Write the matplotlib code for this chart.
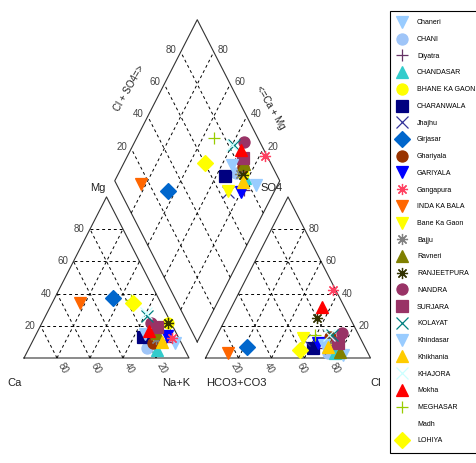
import numpy as np
import matplotlib.pyplot as plt

plt.rcParams['font.family'] = ['Liberation Sans', 'DejaVu Sans']

# sample sites (legend order = plotting order)
sites = ['Chaneri', 'CHANI', 'Diyatra', 'CHANDASAR', 'BHANE KA GAON', 'CHARANWALA',
         'Jhajhu', 'Girjasar', 'Ghariyala', 'GARIYALA', 'Gangapura', 'INDA KA BALA',
         'Bane Ka Gaon', 'Bajju', 'Ravneri', 'RANJEETPURA', 'NANDRA', 'SURJARA',
         'KOLAYAT', 'Khindasar', 'Khikhania', 'KHAJORA', 'Mokha', 'MEGHASAR',
         'Madh', 'LOHIYA']

# cations (% meq): Mg and Na+K, Ca is the rest
mg = [9.3, 6.2, 10, 5, 22, 13, 14, 37, 9.3, 13.6, 12.4, 34,
      14, 12, 15.5, 22, 22, 19, 26, 15, 10, 28, 17, 36, 15, 34]
na_k = [86.9, 71.3, 81, 78, 76, 65.6, 72, 35.3, 73.5, 79.7, 83.3, 17,
        72, 74, 72.7, 76, 66, 71, 61.5, 66, 78.5, 60, 67, 47, 70, 49]
# anions (% meq): SO4 and Cl, HCO3+CO3 is the rest
so4 = [1.9, 2.9, 6, 3, 10, 6.4, 11, 7, 13.2, 9.1, 42.1, 3,
       12.6, 8, 3.9, 24.6, 15.3, 9.1, 14.2, 8, 7, 14, 31.8, 14.2, 10, 5]
cl = [82.6, 73, 69.5, 77, 70, 62.2, 54, 21.7, 68.8, 63.9, 56.4, 12,
      53, 70, 79.5, 55.1, 74.9, 75.9, 69.4, 68, 70.5, 68, 54.5, 59.3, 70, 54.8]

markers = ['v', 'o', '+', '^', 'o', 's', 'x', 'D', 'o', 'v', (8, 2, 0), 'v',
           'v', (8, 2, 0), '^', (8, 2, 0), 'o', 's', 'x', 'v', '^', 'x', '^', '+',
           'none', 'D']
colors = ['#99CCFF', '#9FC5F8', '#663366', '#33CCCC', '#FFFF00', '#000080',
          '#333399', '#0066CC', '#993300', '#0000FF', '#FF4060', '#FF6600',
          '#FFFF00', '#808080', '#808000', '#333300', '#993366', '#993366',
          '#008080', '#99CCFF', '#FFCC00', '#CCFFFF', '#FF0000', '#99CC00',
          'white', '#FFFF00']

grid_vals = [20, 40, 60, 80]

h = np.sqrt(3) / 2
g = 0.1


def left_xy(mgv, nav):
    return (nav + mgv / 2) / 100, h * mgv / 100


def right_xy(so4v, clv):
    return 1 + g + (clv + so4v / 2) / 100, h * so4v / 100


def dia_xy(cam, scl):
    # cam = Ca+Mg fraction, scl = Cl+SO4 fraction
    return 1 + g / 2 + 0.5 * (scl - cam), g * h + h * (scl + cam)


fig = plt.figure(figsize=(4.76, 4.63), dpi=100)
ax = fig.add_axes([0, 0, 1, 1])
ax.set_xlim(-24 / 165, 452 / 165)
ax.set_ylim(-105 / 186, 358 / 186)
ax.axis('off')

edge = dict(color='#333333', lw=0.8, zorder=1)
grid = dict(color='black', lw=0.7, ls=(0, (3.0, 3.0)), zorder=1)

# outlines
ax.plot([0, 1, 0.5, 0], [0, 0, h, 0], **edge)
ax.plot([1 + g, 2 + g, 1.5 + g, 1 + g], [0, 0, h, 0], **edge)
d = [dia_xy(0, 0), dia_xy(1, 0), dia_xy(1, 1), dia_xy(0, 1), dia_xy(0, 0)]
ax.plot([p[0] for p in d], [p[1] for p in d], **edge)

tick_kw = dict(textcoords='offset points', fontsize=7, color='#444444',
               va='center')
for v in grid_vals:
    f = v / 100
    # left triangle
    a, b = left_xy(v, 0), left_xy(v, 100 - v)
    ax.plot([a[0], b[0]], [a[1], b[1]], **grid)
    a, b = left_xy(0, v), left_xy(100 - v, v)
    ax.plot([a[0], b[0]], [a[1], b[1]], **grid)
    a, b = left_xy(0, 100 - v), left_xy(100 - v, 0)
    ax.plot([a[0], b[0]], [a[1], b[1]], **grid)
    # right triangle
    a, b = right_xy(v, 0), right_xy(v, 100 - v)
    ax.plot([a[0], b[0]], [a[1], b[1]], **grid)
    a, b = right_xy(0, v), right_xy(100 - v, v)
    ax.plot([a[0], b[0]], [a[1], b[1]], **grid)
    a, b = right_xy(0, 100 - v), right_xy(100 - v, 0)
    ax.plot([a[0], b[0]], [a[1], b[1]], **grid)
    # diamond
    a, b = dia_xy(f, 0), dia_xy(f, 1)
    ax.plot([a[0], b[0]], [a[1], b[1]], **grid)
    a, b = dia_xy(0, f), dia_xy(1, f)
    ax.plot([a[0], b[0]], [a[1], b[1]], **grid)

    # tick labels
    ax.annotate(str(v), left_xy(v, 0), xytext=(-4, 0), ha='right', **tick_kw)
    ax.annotate(str(v), left_xy(0, 100 - v), xytext=(4.5, -7.5), ha='center',
                rotation=-60, **tick_kw)
    ax.annotate(str(v), right_xy(0, v), xytext=(-2, -7.5), ha='center',
                rotation=-60, **tick_kw)
    ax.annotate(str(v), right_xy(v, 100 - v), xytext=(3, 0), ha='left', **tick_kw)
    ax.annotate(str(v), dia_xy(1, f), xytext=(-3, 1.5), ha='right', **tick_kw)
    ax.annotate(str(v), dia_xy(f, 1), xytext=(3, 1.5), ha='left', **tick_kw)

lab_kw = dict(textcoords='offset points', fontsize=8, color='#222222',
              ha='center', va='center')
ax.annotate('Ca', (0, 0), xytext=(-6.5, -18), **lab_kw)
ax.annotate('Na+K', (1, 0), xytext=(-9.5, -18), **lab_kw)
ax.annotate('Mg', (0.5, h), xytext=(-6, 6.5), **lab_kw)
ax.annotate('HCO3+CO3', (1 + g, 0), xytext=(22, -18), **lab_kw)
ax.annotate('Cl', (2 + g, 0), xytext=(4, -18), **lab_kw)
ax.annotate('SO4', (1.5 + g, h), xytext=(-11.5, 6.5), **lab_kw)
ax.annotate('Cl + SO4=>', dia_xy(1, 0.5), xytext=(-19.5, 8.5), rotation=60,
            **dict(lab_kw, fontsize=7))
ax.annotate('<=Ca + Mg', dia_xy(0.5, 1), xytext=(23, -5), rotation=-60,
            **dict(lab_kw, fontsize=7))

# data points
handles = []
for i, s in enumerate(sites):
    ca_mg = (100 - na_k[i]) / 100
    cl_so4 = (cl[i] + so4[i]) / 100
    p1 = left_xy(mg[i], na_k[i])
    p2 = right_xy(so4[i], cl[i])
    p3 = dia_xy(ca_mg, cl_so4)
    ln, = ax.plot([p1[0], p2[0], p3[0]], [p1[1], p2[1], p3[1]], ls='none',
                  marker=markers[i], color=colors[i], ms=8, mew=0.9,
                  zorder=3, label=s)
    handles.append(ln)

leg = fig.legend(handles=handles, loc='upper left',
                 bbox_to_anchor=(390 / 476, 1 - 11 / 463), borderaxespad=0,
                 fontsize=5, frameon=True, fancybox=False, edgecolor='black',
                 framealpha=1, labelspacing=1.40, handlelength=1.05,
                 handletextpad=1.64, borderpad=1.2, numpoints=1)
leg.get_frame().set_linewidth(0.8)

fig.savefig('out.png', dpi=100)
